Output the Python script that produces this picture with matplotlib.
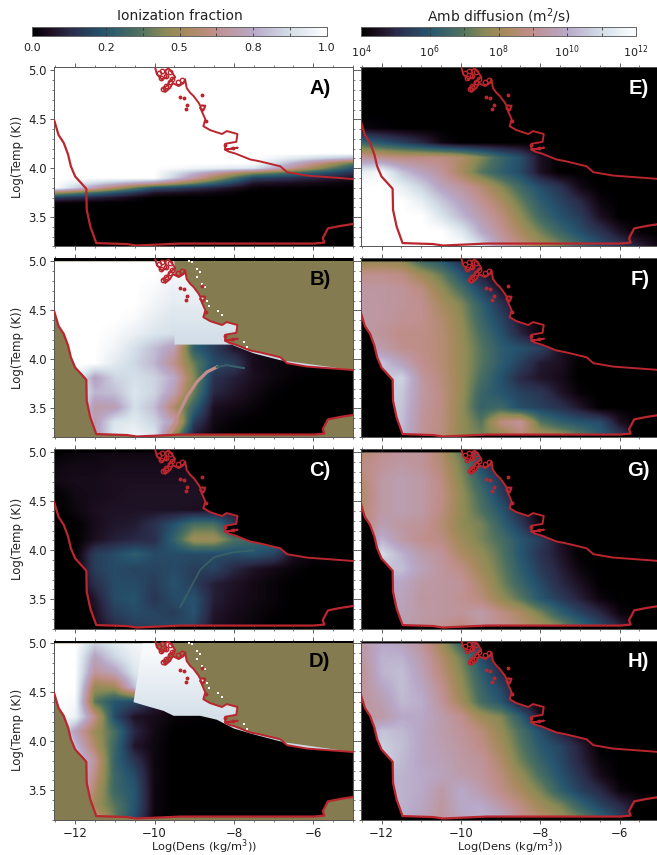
"""Ionization fraction and ambipolar diffusion maps. Writes out.png"""
import matplotlib
matplotlib.use("Agg")
import matplotlib.pyplot as plt
import numpy as np
from matplotlib.cm import ScalarMappable
from matplotlib.colors import LinearSegmentedColormap, LogNorm, Normalize
from matplotlib.patches import Polygon
from matplotlib.ticker import MultipleLocator

W, H = 657, 855
CMAP = LinearSegmentedColormap.from_list("helix", [
    (0.0, "#000000"), (0.06, "#1c0f20"), (0.125, "#2a2a48"), (0.25, "#265670"),
    (0.36, "#4c7060"), (0.45, "#8a8a55"), (0.53, "#aa8a60"), (0.62, "#c08f8c"),
    (0.75, "#b8a8c8"), (0.875, "#d2dee8"), (1.0, "#ffffff")])
OLIVE = "#857b50"
RED = "#b9262e"

# contour of the model domain
LOWER_X = [-12.53, -12.42, -12.29, -12.18, -12.11, -12.0, -11.83, -11.72, -11.71, -11.62,
           -11.47, -10.7, -10.45, -9.35, -5.99, -5.72, -5.76, -5.63, -5.32, -5.0]
LOWER_T = [4.49, 4.34, 4.26, 4.14, 4.02, 3.915, 3.84, 3.79, 3.575, 3.405,
           3.235, 3.225, 3.21, 3.23, 3.23, 3.24, 3.285, 3.385, 3.41, 3.43]
UPPER_X = [-9.98, -9.94, -9.82, -9.69, -9.73, -9.65, -9.56, -9.48, -9.61, -9.69, -9.79, -9.73,
           -9.61, -9.54, -9.39, -9.27, -9.23, -9.19, -9.1, -9.02, -8.89, -8.85, -8.72, -8.77,
           -8.85, -8.72, -8.77, -8.6, -8.3, -8.18, -7.91, -7.94, -8.22, -8.22, -7.91, -8.22,
           -8.13, -7.96, -7.59, -7.34, -6.83, -6.66, -6.16, -5.32, -5.0]
UPPER_T = [5.02, 4.96, 4.91, 4.93, 5.0, 5.02, 4.98, 4.93, 4.89, 4.84, 4.82, 4.78,
           4.82, 4.87, 4.84, 4.87, 4.91, 4.82, 4.77, 4.74, 4.67, 4.64, 4.64, 4.59,
           4.62, 4.5, 4.43, 4.39, 4.35, 4.38, 4.35, 4.27, 4.25, 4.19, 4.21, 4.19,
           4.17, 4.15, 4.09, 4.07, 4.02, 3.96, 3.925, 3.9, 3.89]
RING_X = [-9.9, -9.8, -9.72, -9.62, -9.55, -9.72, -9.78, -9.4, -9.3, -8.8, -9.85, -9.62]
RING_T = [4.97, 4.99, 4.94, 4.98, 4.91, 4.84, 4.81, 4.88, 4.9, 4.63, 4.92, 4.88]
DOT_X = [-9.37, -9.27, -8.81, -9.17, -9.21, -8.7, -8.22, -8.02]
DOT_T = [4.73, 4.72, 4.75, 4.65, 4.61, 4.48, 4.24, 4.21]
SPECK_X = [-9.14, -9.06, -8.93, -8.85, -8.93, -8.8, -8.72, -8.67, -8.62, -8.4, -8.3, -7.75, -7.66]
SPECK_T = [5.0, 4.99, 4.92, 4.89, 4.84, 4.77, 4.74, 4.6, 4.54, 4.49, 4.45, 4.18, 4.13]

# thin ridges narrower than the grids below
B_ARC_X = [-9.6, -9.43, -9.18, -8.93, -8.68, -8.43]
B_ARC_T = [3.24, 3.41, 3.62, 3.77, 3.87, 3.92]
B_TAIL_X = [-8.43, -8.18, -7.75]
B_TAIL_T = [3.92, 3.94, 3.91]
C_ARC_X = [-9.35, -8.85, -8.5, -8.0, -7.5]
C_ARC_T = [3.42, 3.8, 3.93, 3.98, 4.0]

# lower edge of the near-white region in B and D, and its brightness from T=5.0 down
B_EDGE_X = [-9.5, -8.05, -8.0, -7.5, -6.83]
B_EDGE_T = [4.15, 4.15, 4.14, 4.06, 3.99]
D_EDGE_X = [-10.53, -10.2, -9.77, -9.52, -8.85, -8.43, -8.0, -7.5, -6.75]
D_EDGE_T = [4.4, 4.36, 4.31, 4.26, 4.26, 4.22, 4.13, 4.07, 3.99]
LIGHT_FRAC = np.array([[98], [96], [94], [92], [90], [88], [87], [86]]) / 100

# grid nodes: x -12.5..-5 step 0.5, T 5.0..3.2 step 0.15
A_T_TOP, A_T_BOTTOM = 4.2, 3.55
A_FRAC = np.array([  # x = -12.5, -10, -7.5, -5
    [100, 100, 100, 100], [100, 100, 100, 100], [100, 100, 100, 78], [100, 100, 100, 40],
    [100, 100, 90, 25], [100, 100, 45, 14], [100, 100, 20, 7], [100, 68, 8, 2],
    [100, 25, 2, 0], [50, 8, 0, 0], [18, 0, 0, 0], [2, 0, 0, 0], [0, 0, 0, 0], [0, 0, 0, 0]]) / 100
B_FRAC = np.array([
    [100, 100, 100, 100, 100, 100, 98, 98, 98, 98, 98, 98, 98, 98, 98, 98],
    [100, 100, 100, 100, 100, 100, 96, 96, 96, 96, 96, 96, 96, 96, 96, 96],
    [100, 100, 100, 100, 100, 98, 94, 94, 94, 94, 94, 94, 94, 94, 94, 94],
    [100, 100, 100, 100, 100, 96, 92, 92, 92, 92, 92, 92, 92, 92, 92, 92],
    [100, 100, 100, 100, 98, 93, 90, 90, 90, 90, 90, 90, 90, 90, 90, 90],
    [100, 100, 100, 98, 94, 90, 88, 32, 22, 12, 6, 3, 3, 3, 3, 3],
    [100, 100, 100, 96, 88, 80, 70, 28, 18, 8, 5, 3, 3, 3, 3, 3],
    [100, 100, 100, 92, 86, 78, 62, 40, 22, 18, 5, 3, 2, 1, 1, 1],
    [100, 100, 72, 85, 88, 85, 75, 45, 15, 10, 6, 3, 1, 0, 0, 0],
    [100, 100, 78, 80, 90, 85, 70, 40, 12, 8, 4, 1, 0, 0, 0, 0],
    [100, 100, 68, 70, 88, 80, 55, 30, 6, 4, 2, 0, 0, 0, 0, 0],
    [100, 100, 70, 90, 92, 85, 70, 18, 4, 1, 0, 0, 0, 0, 0, 0],
    [100, 100, 70, 92, 96, 92, 45, 8, 2, 0, 0, 0, 0, 0, 0, 0]]) / 100
C_FRAC = np.array([
    [0, 2, 3, 3, 3, 3, 3, 3, 3, 3, 3, 3, 3, 3, 3, 3],
    [3, 4, 4, 5, 5, 5, 5, 5, 5, 5, 5, 5, 5, 5, 5, 5],
    [4, 5, 5, 6, 6, 6, 6, 6, 6, 6, 6, 6, 6, 6, 6, 6],
    [0, 4, 5, 6, 7, 7, 7, 7, 6, 6, 6, 6, 6, 6, 6, 6],
    [0, 3, 6, 7, 7, 7, 7, 6, 6, 6, 6, 6, 6, 6, 6, 6],
    [0, 0, 5, 8, 9, 15, 24, 36, 36, 18, 6, 6, 6, 6, 6, 6],
    [0, 0, 6, 10, 12, 14, 30, 50, 50, 36, 32, 30, 30, 30, 30, 30],
    [0, 0, 18, 22, 28, 22, 22, 22, 22, 22, 24, 20, 6, 3, 3, 3],
    [0, 0, 18, 22, 20, 20, 22, 18, 20, 12, 7, 4, 2, 0, 0, 0],
    [0, 0, 14, 22, 22, 18, 24, 18, 10, 7, 4, 2, 0, 0, 0, 0],
    [0, 0, 8, 22, 24, 16, 22, 24, 10, 6, 4, 2, 0, 0, 0, 0],
    [0, 0, 6, 18, 22, 20, 18, 24, 8, 5, 3, 1, 0, 0, 0, 0],
    [0, 0, 5, 12, 18, 20, 22, 20, 6, 4, 2, 0, 0, 0, 0, 0]]) / 100
D_FRAC = np.array([
    [100, 100, 85, 92, 96, 98, 98, 98, 98, 98, 98, 98, 98, 98, 98, 98],
    [100, 100, 72, 85, 94, 96, 96, 96, 96, 96, 96, 96, 96, 96, 96, 96],
    [100, 100, 65, 72, 90, 94, 94, 94, 94, 94, 94, 94, 94, 94, 94, 94],
    [100, 100, 48, 50, 80, 92, 92, 92, 92, 92, 92, 92, 92, 92, 92, 92],
    [100, 98, 38, 25, 22, 10, 2, 1, 1, 0, 0, 0, 0, 0, 0, 0],
    [100, 95, 62, 22, 7, 5, 2, 1, 1, 0, 0, 0, 0, 0, 0, 0],
    [100, 72, 50, 35, 12, 4, 0, 0, 0, 0, 0, 0, 0, 0, 0, 0],
    [100, 80, 55, 32, 8, 3, 0, 0, 0, 0, 0, 0, 0, 0, 0, 0],
    [100, 90, 65, 30, 16, 3, 0, 0, 0, 0, 0, 0, 0, 0, 0, 0],
    [100, 90, 60, 32, 22, 3, 0, 0, 0, 0, 0, 0, 0, 0, 0, 0],
    [90, 85, 55, 32, 25, 3, 0, 0, 0, 0, 0, 0, 0, 0, 0, 0],
    [85, 80, 50, 38, 25, 3, 0, 0, 0, 0, 0, 0, 0, 0, 0, 0],
    [80, 80, 65, 40, 22, 2, 0, 0, 0, 0, 0, 0, 0, 0, 0, 0]]) / 100
E_LOGD = np.array([
    [4, 4, 4, 4, 4, 4, 4, 4, 4, 4, 4, 4, 4, 4, 4, 4],
    [4, 4, 4, 4, 4, 4, 4, 4, 4, 4, 4, 4, 4, 4, 4, 4],
    [4, 4, 4, 4, 4, 4, 4, 4, 4, 4, 4, 4, 4, 4, 4, 4],
    [4, 4, 4, 4, 4, 4, 4, 4, 4, 4, 4, 4, 4, 4, 4, 4],
    [4.2, 4.1, 4, 4, 4, 4, 4, 4, 4, 4, 4, 4, 4, 4, 4, 4],
    [6.5, 6, 5.5, 5, 4.3, 4, 4, 4, 4, 4, 4, 4, 4, 4, 4, 4],
    [9.2, 9, 8.8, 8.8, 8.8, 8.4, 7.5, 6.5, 5.8, 4.5, 4, 4, 4, 4, 4, 4],
    [11.5, 11.8, 10.5, 9.8, 9.2, 8.2, 7, 6.3, 5.7, 4.5, 4, 4, 4, 4, 4, 4],
    [12, 12, 11.5, 10.8, 9.8, 9.3, 8.6, 7.6, 6.6, 5.8, 5.2, 4.3, 4, 4, 4, 4],
    [12, 12, 12, 11.5, 10.6, 9.8, 9.1, 8.3, 7.2, 6.2, 5.6, 5, 4.2, 4, 4, 4],
    [12, 12, 12, 12, 11.2, 10.3, 9.5, 8.8, 7.7, 6.6, 5.9, 5.4, 4.5, 4, 4, 4],
    [12, 12, 12, 12, 12, 11.3, 10, 9.1, 8.2, 7.3, 6.5, 5.8, 5.2, 4.5, 4, 4],
    [12, 12, 12, 12, 12, 12, 11, 9.6, 8.8, 8, 7.4, 6.6, 5.9, 5.3, 4.8, 4.2]])
F_LOGD = np.array([
    [7.6, 7.8, 7.6, 6.5, 6, 5, 4, 4, 4, 4, 4, 4, 4, 4, 4, 4],
    [9, 9, 8.8, 8, 7.2, 6, 4.8, 4, 4, 4, 4, 4, 4, 4, 4, 4],
    [9.3, 9.3, 9.2, 8.8, 7.8, 6.8, 5.6, 4.5, 4, 4, 4, 4, 4, 4, 4, 4],
    [9.4, 9.3, 9.2, 9, 8.2, 7.5, 6.3, 5.2, 4.2, 4, 4, 4, 4, 4, 4, 4],
    [9.4, 9.3, 9.1, 9, 8.5, 7.7, 6.5, 5.6, 4.6, 4, 4, 4, 4, 4, 4, 4],
    [9.4, 9.2, 8.9, 8.9, 8.6, 7.8, 6.8, 5.9, 4.9, 4.2, 4, 4, 4, 4, 4, 4],
    [10, 9.5, 9, 8.9, 8.6, 7.9, 7, 6.2, 5.9, 5.5, 4.5, 4, 4, 4, 4, 4],
    [10, 10.5, 9.8, 9, 8.6, 7.9, 7, 6.2, 5.5, 4.7, 4.5, 4, 4, 4, 4, 4],
    [10, 10.5, 10.8, 9.3, 8.7, 7.9, 6.8, 5.9, 5, 4.6, 4.4, 4, 4, 4, 4, 4],
    [10.5, 10.8, 10.6, 9.4, 8.8, 7.9, 6.5, 6, 5.5, 5.3, 4.6, 4.1, 4, 4, 4, 4],
    [10.5, 10.8, 10.5, 9.3, 8.8, 7.8, 6.4, 6.6, 5.8, 5.5, 5.2, 4.6, 4, 4, 4, 4],
    [10.5, 10.8, 10.4, 9.2, 8.8, 7.8, 7, 8.8, 9.2, 7, 6.3, 6, 5.8, 4.5, 4, 4],
    [10.5, 10.8, 10.3, 9.2, 8.7, 7.7, 7.4, 7.6, 8.6, 8.2, 8, 7.2, 6.2, 5.5, 4.2, 4]])
G_LOGD = np.array([
    [8.5, 9, 9.2, 9.2, 8.4, 7, 5.5, 4, 4, 4, 4, 4, 4, 4, 4, 4],
    [8.8, 9.2, 9.4, 9.2, 8.6, 7.4, 5.8, 4.6, 4, 4, 4, 4, 4, 4, 4, 4],
    [8.6, 9.4, 9.6, 9.4, 8.8, 7.6, 6.3, 5.2, 4, 4, 4, 4, 4, 4, 4, 4],
    [8.4, 9.4, 9.6, 9.4, 8.9, 7.8, 6.7, 5.5, 4.4, 4, 4, 4, 4, 4, 4, 4],
    [8.6, 9.4, 9.6, 9.4, 8.8, 7.8, 6.9, 6, 4.9, 4, 4, 4, 4, 4, 4, 4],
    [8.6, 9.6, 9.3, 9.2, 8.6, 7.7, 7.4, 6.4, 5.4, 4.2, 4, 4, 4, 4, 4, 4],
    [9, 10.2, 9.4, 9, 8.8, 8, 7.4, 6.8, 6, 5.4, 4.5, 4, 4, 4, 4, 4],
    [9.5, 11, 10.2, 9.5, 9.2, 8.3, 7.8, 7, 6, 5.2, 4.6, 4, 4, 4, 4, 4],
    [10, 10.5, 10.4, 9.7, 9.3, 8.9, 8, 7.2, 6.2, 5.4, 4.8, 4.2, 4, 4, 4, 4],
    [10, 10, 9.9, 9.4, 9.3, 9.2, 8.4, 7.4, 6.5, 5.7, 5, 4.5, 4, 4, 4, 4],
    [9.8, 9.8, 9.8, 9.3, 9.3, 9.1, 8.7, 7.8, 7, 6, 5.4, 4.8, 4.2, 4, 4, 4],
    [9.6, 9.7, 9.7, 9.4, 9.3, 9.2, 9.5, 8.9, 8.3, 7.4, 6.3, 5.6, 5, 4.2, 4, 4],
    [9.6, 9.6, 9.6, 9.3, 9.1, 8.6, 9.3, 9, 8.6, 8.2, 7.6, 6.6, 5.8, 5, 4.2, 4]])
H_LOGD = np.array([
    [9.4, 10, 9.8, 9.2, 8, 6.4, 5, 4, 4, 4, 4, 4, 4, 4, 4, 4],
    [9.3, 10.2, 10.2, 9.5, 8.5, 7.3, 5.8, 4.6, 4, 4, 4, 4, 4, 4, 4, 4],
    [9.1, 10.2, 10.4, 9.7, 8.7, 7.6, 6.2, 5, 4, 4, 4, 4, 4, 4, 4, 4],
    [9.2, 9.9, 10.4, 9.9, 9, 7.8, 6.5, 5.6, 4.4, 4, 4, 4, 4, 4, 4, 4],
    [9.2, 9.6, 10.3, 10.1, 9.2, 8.1, 6.7, 6, 4.6, 4, 4, 4, 4, 4, 4, 4],
    [9.4, 9.4, 10, 10, 9.5, 9, 8, 7.5, 6.2, 4.5, 4, 4, 4, 4, 4, 4],
    [9.4, 10.5, 10.3, 9.9, 9.5, 9.2, 8.7, 7.8, 6.8, 5.8, 4.8, 4.2, 4, 4, 4, 4],
    [9.4, 10.7, 10.4, 9.9, 9.6, 9.3, 8.9, 8.1, 7, 6.1, 5.6, 4.8, 4, 4, 4, 4],
    [9.4, 10.8, 10.3, 9.9, 9.7, 9.4, 9.2, 8.4, 7.3, 6.4, 5.7, 4.9, 4.2, 4, 4, 4],
    [9.4, 10.2, 10.2, 10, 9.8, 9.5, 9.3, 8.7, 7.8, 6.8, 5.9, 5.2, 4.4, 4, 4, 4],
    [9.4, 10.2, 10.2, 10, 9.4, 10, 9.5, 8.9, 8.2, 7.4, 6.3, 5.5, 5, 4.2, 4, 4],
    [9.4, 10.1, 10.2, 9.9, 9.3, 10, 10, 9.4, 8.8, 8, 7.4, 6.4, 5.6, 5, 4.4, 4],
    [9.4, 10, 10.1, 9.8, 9.2, 9.8, 10.2, 10, 9.1, 8.6, 8, 7.4, 6.5, 5.6, 4.4, 4]])

FRAC_TICKS = [0.0, 0.25, 0.5, 0.75, 1.0]
FRAC_LABELS = ["0.0", "0.2", "0.5", "0.8", "1.0"]
FRAC_MINOR = [0.125, 0.375, 0.625, 0.875]
LOGD_TICKS = [1e4, 1e6, 1e8, 1e10, 1e12]
LOGD_LABELS = [r"$\mathregular{10^{%d}}$" % e for e in (4, 6, 8, 10, 12)]
LOGD_MINOR = [1e5, 1e7, 1e9, 1e11]

plt.rcParams["font.family"] = "DejaVu Sans"
plt.rcParams["axes.linewidth"] = 0.7
plt.rcParams["axes.edgecolor"] = "#555555"
fig = plt.figure(figsize=(W / 100, H / 100), dpi=100)


def px_axes(x0, y0, x1, y1):
    return fig.add_axes([x0 / W, 1 - y1 / H, (x1 - x0) / W, (y1 - y0) / H])


def domain(ax):
    verts = list(zip(LOWER_X, LOWER_T)) + [(-5.0, 3.89)]
    verts += list(zip(UPPER_X[::-1], UPPER_T[::-1])) + [(-9.98, 5.0), (-12.53, 5.0)]
    return Polygon(verts, transform=ax.transData)


def light_region(ax, edge_x, edge_t, top_x):
    # near-white part above the sharp edge, bounded on the right by the upper contour
    verts = list(zip(edge_x, edge_t)) + [(-5.0, 3.89)]
    verts += list(zip(UPPER_X[::-1], UPPER_T[::-1])) + [(-9.98, 5.0), (top_x, 5.0)]
    im = ax.imshow(LIGHT_FRAC, cmap=CMAP, vmin=0, vmax=1, aspect="auto", origin="upper",
                   interpolation="bilinear", interpolation_stage="data",
                   extent=(-12.5, -5, 3.9, 5.0), zorder=2)
    im.set_clip_path(Polygon(verts, transform=ax.transData))
    ax.set_xlim(-12.53, -5)
    ax.set_ylim(3.2, 5.03)


def colorbar(x0, x1, norm, ticks, labels, minor, title):
    cax = px_axes(x0, 27, x1, 36)
    cb = fig.colorbar(ScalarMappable(norm=norm, cmap=CMAP), cax=cax, orientation="horizontal")
    cb.outline.set_edgecolor("#666666")
    cb.outline.set_linewidth(0.7)
    cax.set_xticks(ticks, labels)
    cax.set_xticks(minor, [""] * len(minor), minor=True)
    cax.tick_params(which="both", direction="in", top=True, bottom=True, length=2,
                    width=0.6, color="#333333", labelsize=8, labelcolor="#222222", pad=5)
    fig.text((x0 + x1) / 2 / W, 1 - 16 / H, title, ha="center", va="center",
             fontsize=10, color="#222222")


def panel(col, row, name, grid, vmin, vmax, text_color, bg="black", clip=True, t_top=5.0, t_bottom=3.2):
    x0 = 54.2 if col == 0 else 360.5
    y0 = 67.5 + 191 * row
    ax = px_axes(x0, y0, x0 + 298.7, y0 + 179)
    ax.set_facecolor(bg)
    nrow, ncol = grid.shape
    dx = 7.5 / (ncol - 1)
    dt = (t_top - t_bottom) / (nrow - 1)
    im = ax.imshow(grid, cmap=CMAP, vmin=vmin, vmax=vmax, aspect="auto", origin="upper",
                   interpolation="bilinear", interpolation_stage="data",
                   extent=(-12.5 - dx / 2, -5 + dx / 2, t_bottom - dt / 2, t_top + dt / 2))
    if clip:
        im.set_clip_path(domain(ax))
    ax.set_xlim(-12.53, -5)
    ax.set_ylim(3.2, 5.03)
    ax.xaxis.set_major_locator(MultipleLocator(2))
    ax.xaxis.set_minor_locator(MultipleLocator(0.5))
    ax.yaxis.set_major_locator(MultipleLocator(0.5))
    ax.yaxis.set_minor_locator(MultipleLocator(0.1))
    ax.tick_params(which="major", direction="out", top=True, right=True, length=3, width=0.6,
                   color="#444444", labelsize=8.5, labelcolor="#222222", pad=2.5,
                   labelbottom=row == 3, labelleft=col == 0)
    ax.tick_params(which="minor", direction="out", top=True, right=True, length=1.6, width=0.5,
                   color="#444444")
    if col == 0:
        ax.set_ylabel("Log(Temp (K))", fontsize=8.5, color="#222222", va="center")
        ax.yaxis.set_label_coords(-0.124, 0.5)
    if row == 3:
        ax.set_xlabel(r"Log(Dens (kg/m$\mathregular{^3}$))", fontsize=8.2, color="#222222", va="center")
        ax.xaxis.set_label_coords(0.5, -0.152)
    tx = 0.925 if col == 0 else 0.967
    ax.text(tx, 0.885, name, transform=ax.transAxes, ha="right", va="center", color=text_color,
            fontsize=14.5, fontweight="bold", family="Liberation Sans", zorder=6)
    return ax


def contour(ax):
    ax.plot(LOWER_X, LOWER_T, color=RED, lw=1.6, zorder=5)
    ax.plot(UPPER_X, UPPER_T, color=RED, lw=1.4, zorder=5)
    ax.plot(RING_X, RING_T, "o", mfc="none", mec=RED, mew=1, ms=3.2, zorder=5)
    ax.plot(DOT_X, DOT_T, "o", color=RED, ms=1.8, zorder=5)


colorbar(32, 327, Normalize(0, 1), FRAC_TICKS, FRAC_LABELS, FRAC_MINOR, "Ionization fraction")
colorbar(361, 636, LogNorm(1e4, 1e12), LOGD_TICKS, LOGD_LABELS, LOGD_MINOR, r"Amb diffusion (m$\mathregular{^2}$/s)")

ax_a = panel(0, 0, "A)", A_FRAC, 0, 1, "black", clip=False, t_top=A_T_TOP, t_bottom=A_T_BOTTOM)
ax_a.axhspan(A_T_TOP, 5.1, color="white", lw=0, zorder=0.5)
ax_b = panel(0, 1, "B)", B_FRAC, 0, 1, "black", bg=OLIVE)
ax_c = panel(0, 2, "C)", C_FRAC, 0, 1, "white")
ax_d = panel(0, 3, "D)", D_FRAC, 0, 1, "black", bg=OLIVE)
ax_e = panel(1, 0, "E)", E_LOGD, 4, 12, "white", clip=False)
ax_f = panel(1, 1, "F)", F_LOGD, 4, 12, "white")
ax_g = panel(1, 2, "G)", G_LOGD, 4, 12, "white")
ax_h = panel(1, 3, "H)", H_LOGD, 4, 12, "white")

light_region(ax_b, B_EDGE_X, B_EDGE_T, -9.5)
light_region(ax_d, D_EDGE_X, D_EDGE_T, -10.3)
ax_b.plot(B_ARC_X, B_ARC_T, color=CMAP(0.62), lw=2.3, zorder=3)
ax_b.plot(B_TAIL_X, B_TAIL_T, color=CMAP(0.3), lw=1.5, zorder=3)
ax_c.plot(C_ARC_X, C_ARC_T, color=CMAP(0.32), lw=1.3, alpha=0.8, zorder=3)
for ax in (ax_b, ax_d):
    ax.axhspan(5.0, 5.04, color="black", lw=0, zorder=4)
    ax.plot(SPECK_X, SPECK_T, "s", color="white", ms=1.8, mew=0, zorder=4)
for ax in (ax_a, ax_b, ax_c, ax_d, ax_e, ax_f, ax_g, ax_h):
    contour(ax)

fig.savefig("out.png", dpi=100)
